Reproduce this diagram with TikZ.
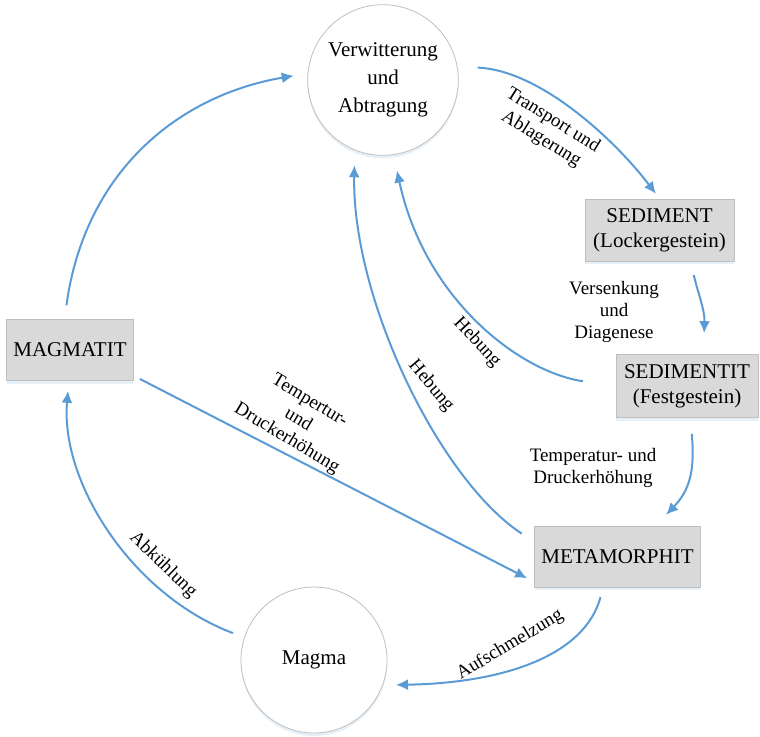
\documentclass[tikz,border=0pt]{standalone}
\usepackage{fontspec}
\setmainfont{Liberation Serif}
\usepackage{xcolor}
\usetikzlibrary{positioning, calc, arrows.meta, shadows}
\definecolor{flowblue}{HTML}{5B9BD5}
\definecolor{boxgray}{HTML}{D9D9D9}
\definecolor{rimgray}{HTML}{BFBFBF}

\begin{document}
\begin{tikzpicture}[x=0.5pt, y=-0.5pt,
    glow/.style={drop shadow={shadow xshift=0pt, shadow yshift=-1.5pt, fill=flowblue!30, opacity=0.5}},
    stage/.style={circle, draw=rimgray, fill=white, glow, align=center,
      font=\fontsize{10.5}{14}\selectfont},
    rock/.style={rectangle, draw=rimgray, fill=boxgray, glow, align=center,
      font=\fontsize{10.5}{12.5}\selectfont},
    flow/.style={draw=flowblue, line width=1pt, -{Latex[length=6pt,width=5.5pt]}},
    lbl/.style={align=center, font=\fontsize{9.5}{11}\selectfont}]
      \useasboundingbox (0,0) rectangle (760,736);
      % stations of the cycle
      \node[stage, minimum size=72pt] (verw) at (383,80) {Verwitterung\\und\\Abtragung};
      \node[stage, minimum size=73pt] (magma) at (314,660) {Magma};
      \node[rock, minimum width=62pt, minimum height=30.5pt] (magmatit) at (70,350) {MAGMATIT};
      \node[rock, minimum width=74.5pt, minimum height=31pt] (sediment) at (659.5,230) {SEDIMENT\\(Lockergestein)};
      \node[rock, minimum width=71pt, minimum height=31.5pt] (sedimentit) at (687,386) {SEDIMENTIT\\(Festgestein)};
      \node[rock, minimum width=82.5pt, minimum height=30.5pt] (metamorphit) at (617.5,556.5) {METAMORPHIT};
      % arrows
      \draw[flow, shorten <=7pt, shorten >=7pt] (magmatit.100) .. controls (85,170) and (180,95) .. (verw.175);
      \draw[flow, shorten <=10pt, shorten >=3pt] (verw.10) .. controls (540,70) and (615,140) .. (sediment.north);
      \draw[flow, shorten <=7pt, shorten >=10.5pt] (sediment.-45) .. controls (697,290) and (705,310) .. (sedimentit.63);
      \draw[flow, shorten <=16.5pt, shorten >=8pt] (sedimentit.west) .. controls (520,372) and (425,300) .. (verw.-82);
      \draw[flow, shorten <=7.5pt, shorten >=7.5pt] (metamorphit.170) .. controls (440,480) and (352,300) .. (verw.-112);
      \draw[flow, shorten <=8pt, shorten >=7.5pt] (sedimentit.-84) .. controls (695,470) and (690,490) .. (metamorphit.39);
      \draw[flow, shorten <=3.5pt, shorten >=4pt] (magmatit.-22) -- (metamorphit.-163);
      \draw[flow, shorten <=5pt, shorten >=6.5pt] (metamorphit.-115) .. controls (585,655) and (505,683) .. (magma.-20);
      \draw[flow, shorten <=6pt, shorten >=5pt] (magma.162) .. controls (132,595) and (60,482) .. (magmatit.-92);
      % labels
      \node[lbl, rotate=-32] (lbltransport) at (547,130) {Transport und\\Ablagerung};
      \node[lbl] (lblversenk) at (614,312) {Versenkung\\und\\Diagenese};
      \node[lbl, rotate=-47] (lblhebungA) at (477,342) {Hebung};
      \node[lbl, rotate=-50] (lblhebungB) at (431,386) {Hebung};
      \node[lbl, rotate=-31] (lbltempA) at (298,420) {Tempertur-\\und\\Druckerhöhung};
      \node[lbl] (lbltempB) at (593,468) {Temperatur- und\\Druckerhöhung};
      \node[lbl, rotate=31] (lblaufschm) at (510,645) {Aufschmelzung};
      \node[lbl, rotate=-44] (lblabk) at (163,565) {Abkühlung};
    \end{tikzpicture}
\end{document}
